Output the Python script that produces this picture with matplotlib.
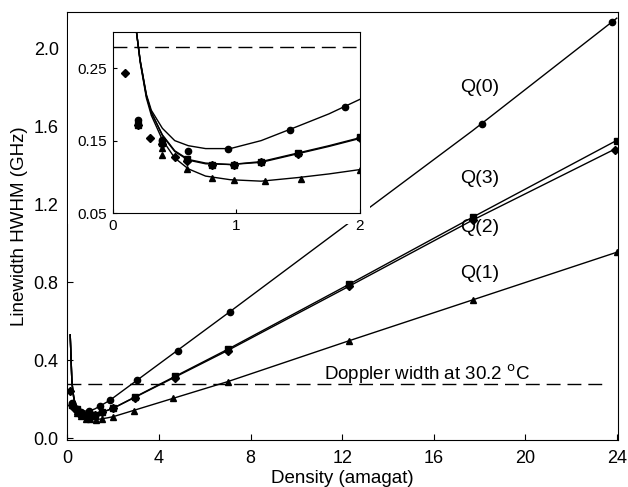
import matplotlib
matplotlib.use('Agg')
import matplotlib.pyplot as plt
from matplotlib.patches import Rectangle

plt.rcParams['font.family'] = ['Liberation Sans', 'DejaVu Sans']

# measured points (density in amagat, HWHM in GHz)
q0_x = [0.2, 0.4, 0.61, 0.93, 1.43, 1.88, 3.05, 4.85, 7.1, 18.1, 23.8]
q0_y = [0.178, 0.151, 0.136, 0.139, 0.165, 0.197, 0.30, 0.446, 0.65, 1.615, 2.14]

q3_x = [0.2, 0.4, 0.6, 0.8, 0.98, 1.2, 1.5, 2.0, 2.95, 4.7, 7.0, 12.3, 17.7, 24.0]
q3_y = [0.172, 0.147, 0.124, 0.117, 0.117, 0.121, 0.133, 0.155, 0.21, 0.318, 0.456, 0.79, 1.135, 1.525]

q2_x = [0.1, 0.2, 0.3, 0.4, 0.5, 0.6, 0.8, 0.98, 1.2, 1.5, 2.0, 2.95, 4.7, 7.0, 12.3, 17.7, 23.9]
q2_y = [0.243, 0.172, 0.154, 0.145, 0.128, 0.122, 0.116, 0.116, 0.120, 0.132, 0.153, 0.205, 0.31, 0.447, 0.78, 1.12, 1.48]

q1_x = [0.4, 0.4, 0.6, 0.8, 0.98, 1.23, 1.52, 2.0, 2.9, 4.6, 7.0, 12.3, 17.7, 24.0]
q1_y = [0.14, 0.13, 0.111, 0.099, 0.096, 0.094, 0.097, 0.11, 0.14, 0.205, 0.29, 0.50, 0.71, 0.955]

# fitted curves
fit_x = [0.12, 0.19, 0.22, 0.27, 0.31, 0.40, 0.50, 0.61, 0.75, 0.95, 1.2, 1.5, 1.75, 2.0, 7.0, 12.3, 17.7, 24.0]
fit0_y = [0.53, 0.30, 0.261, 0.214, 0.192, 0.167, 0.150, 0.143, 0.139, 0.139, 0.150, 0.170, 0.187, 0.207, 0.641, 1.106, 1.58, 2.158]
fit3_y = [0.53, 0.30, 0.260, 0.212, 0.189, 0.158, 0.136, 0.124, 0.119, 0.117, 0.121, 0.133, 0.143, 0.154, 0.456, 0.79, 1.135, 1.53]
fit2_y = [0.53, 0.30, 0.260, 0.212, 0.189, 0.157, 0.135, 0.123, 0.118, 0.117, 0.120, 0.132, 0.142, 0.153, 0.450, 0.78, 1.12, 1.49]
fit1_y = [0.53, 0.30, 0.258, 0.209, 0.185, 0.151, 0.126, 0.111, 0.101, 0.096, 0.094, 0.099, 0.104, 0.110, 0.29, 0.50, 0.71, 0.955]

doppler = 0.28

series = [
    (q0_x, q0_y, fit0_y, 'o'),
    (q3_x, q3_y, fit3_y, 's'),
    (q2_x, q2_y, fit2_y, 'D'),
    (q1_x, q1_y, fit1_y, '^'),
]

fig = plt.figure(figsize=(6.28, 4.87), dpi=100)
ax = fig.add_axes([0.1067, 0.0965, 0.8773, 0.879])

for x, y, fy, m in series:
    ax.plot(fit_x, fy, color='black', lw=1.0, zorder=2)
    ax.plot(x, y, ls='none', marker=m, color='black', ms=4.5 if m != 'D' else 4, zorder=2)

ax.axhline(doppler, xmin=0, xmax=0.98, color='black', lw=1.0, dashes=(10, 5))

ax.set_xlim(-0.02, 24.05)
ax.set_ylim(-0.01, 2.19)
ax.set_xticks([0, 4, 8, 12, 16, 20, 24])
ax.set_yticks([0.0, 0.4, 0.8, 1.2, 1.6, 2.0])
ax.set_yticklabels(['0.0', '0.4', '0.8', '1.2', '1.6', '2.0'])
ax.tick_params(direction='in', length=4, labelsize=13)
ax.tick_params(axis='x', pad=7)
ax.tick_params(axis='y', pad=6)
ax.set_xlabel('Density (amagat)', fontsize=13.5, labelpad=2)
ax.set_ylabel('Linewidth HWHM (GHz)', fontsize=13.5, labelpad=4)

ax.text(18.0, 1.80, 'Q(0)', fontsize=14, ha='center', va='center')
ax.text(18.0, 1.335, 'Q(3)', fontsize=14, ha='center', va='center')
ax.text(18.0, 1.08, 'Q(2)', fontsize=14, ha='center', va='center')
ax.text(18.0, 0.845, 'Q(1)', fontsize=14, ha='center', va='center')
ax.text(15.7, 0.33, 'Doppler width at 30.2 $^{\\rm o}$C', fontsize=13.5, ha='center', va='center')

# white box hiding the lines behind the inset
box = Rectangle((68 / 628, 1 - 224 / 487), (370 - 68) / 628, (224 - 20) / 487,
                transform=fig.transFigure, facecolor='white', edgecolor='none', zorder=3)
ax.add_patch(box)

ins = fig.add_axes([0.180, 0.5626, 0.393, 0.3716])
ins.set_zorder(5)
for x, y, fy, m in series:
    ins.plot(fit_x, fy, color='black', lw=1.0)
    ins.plot(x, y, ls='none', marker=m, color='black', ms=4.5 if m != 'D' else 4)
ins.axhline(doppler, color='black', lw=1.0, dashes=(10, 5))
ins.set_xlim(0, 2)
ins.set_ylim(0.05, 0.30)
ins.set_xticks([0, 1, 2])
ins.set_yticks([0.05, 0.15, 0.25])
ins.set_yticklabels(['0.05', '0.15', '0.25'])
ins.tick_params(direction='in', length=3, labelsize=11, pad=4)

fig.savefig('out.png', dpi=100)
